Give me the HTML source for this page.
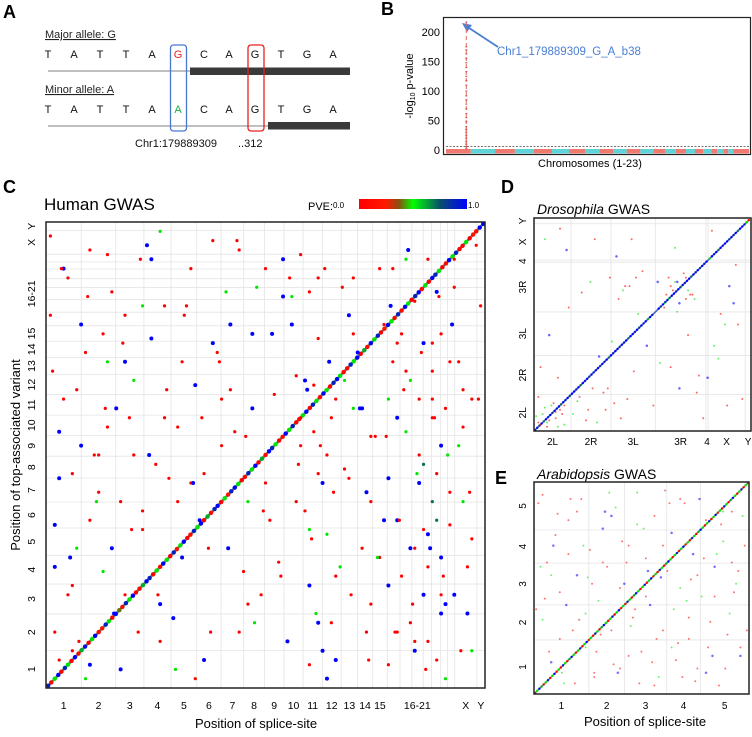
<!DOCTYPE html>
<html><head><meta charset="utf-8">
<style>
html,body{margin:0;padding:0;background:#fff;}
body{width:752px;height:732px;overflow:hidden;font-family:"Liberation Sans",sans-serif;}
svg text{font-family:"Liberation Sans",sans-serif;}
</style></head>
<body>
<svg id="fig" width="752" height="732" viewBox="0 0 752 732" xmlns="http://www.w3.org/2000/svg">
<g>
<text x="3" y="18" font-size="18" font-weight="bold">A</text>
<text x="45" y="38" font-size="11" text-decoration="underline" fill="#222">Major allele: G</text>
<g font-size="11" fill="#111" text-anchor="middle">
<text x="48" y="58">T</text><text x="74" y="58">A</text><text x="100" y="58">T</text><text x="126" y="58">T</text><text x="152" y="58">A</text><text x="178" y="58" fill="#e82020">G</text><text x="204" y="58">C</text><text x="229" y="58">A</text><text x="255" y="58">G</text><text x="281" y="58">T</text><text x="307" y="58">G</text><text x="333" y="58">A</text>
</g>
<line x1="48" y1="71" x2="190" y2="71" stroke="#aaa" stroke-width="1.5"/>
<rect x="190" y="67.5" width="160" height="7.5" fill="#3a3a3a"/>
<text x="45" y="93" font-size="11" text-decoration="underline" fill="#222">Minor allele: A</text>
<g font-size="11" fill="#111" text-anchor="middle">
<text x="48" y="113">T</text><text x="74" y="113">A</text><text x="100" y="113">T</text><text x="126" y="113">T</text><text x="152" y="113">A</text><text x="178" y="113" fill="#1db04a">A</text><text x="204" y="113">C</text><text x="229" y="113">A</text><text x="255" y="113">G</text><text x="281" y="113">T</text><text x="307" y="113">G</text><text x="333" y="113">A</text>
</g>
<line x1="48" y1="126" x2="268" y2="126" stroke="#aaa" stroke-width="1.5"/>
<rect x="268" y="122" width="82" height="7.5" fill="#3a3a3a"/>
<rect x="170.5" y="45" width="16" height="86" rx="3" fill="none" stroke="#4a78d0" stroke-width="1.3"/>
<rect x="248" y="45" width="16" height="86" rx="3" fill="none" stroke="#e82020" stroke-width="1.3"/>
<text x="135" y="147" font-size="11" fill="#111">Chr1:179889309</text>
<text x="238" y="147" font-size="11" fill="#111">..312</text>
</g>

<g id="panelB">
<text x="381" y="15" font-size="18" font-weight="bold">B</text>
<rect x="443.5" y="17.5" width="307" height="137" fill="none" stroke="#222" stroke-width="1.2"/>
<text transform="translate(413,86) rotate(-90)" font-size="11" text-anchor="middle">-log<tspan font-size="7" dy="2">10</tspan><tspan dy="-2"> p-value</tspan></text>
<text x="590" y="167" font-size="11" text-anchor="middle">Chromosomes (1-23)</text>
<line x1="446" y1="146.5" x2="749" y2="146.5" stroke="#444" stroke-width="0.8" stroke-dasharray="2,1.5"/>
<line x1="498" y1="47" x2="466" y2="26" stroke="#4a7fd4" stroke-width="1.8"/>
<polygon points="462,23 472,25 467,32" fill="#4a7fd4"/>
<text x="497" y="55" font-size="11.5" fill="#4a7fd4">Chr1_179889309_G_A_b38</text>
</g>

<g id="panelC">
<text x="3" y="193" font-size="18" font-weight="bold">C</text>
<text x="44" y="210" font-size="17">Human GWAS</text>
<text x="308" y="210" font-size="11">PVE:</text>
<text x="333" y="208" font-size="8">0.0</text>
<defs><linearGradient id="pveg" x1="0" x2="1" y1="0" y2="0">
<stop offset="0" stop-color="#ff0000"/><stop offset="0.25" stop-color="#ff1a00"/><stop offset="0.37" stop-color="#8a5010"/><stop offset="0.5" stop-color="#00ff00"/><stop offset="0.75" stop-color="#0a4f6a"/><stop offset="1" stop-color="#0000ff"/></linearGradient></defs>
<rect x="359" y="199" width="108" height="10" fill="url(#pveg)"/>
<text x="468" y="208" font-size="8">1.0</text>
<text transform="translate(20,455) rotate(-90)" font-size="13" text-anchor="middle">Position of top-associated variant</text>
<text x="256" y="728" font-size="13" text-anchor="middle">Position of splice-site</text>
</g>

<g id="panelD">
<text x="501" y="193" font-size="18" font-weight="bold">D</text>
<text x="537" y="214" font-size="14"><tspan font-style="italic">Drosophila</tspan> GWAS</text>
</g>

<g id="panelE">
<text x="495" y="484" font-size="18" font-weight="bold">E</text>
<text x="537" y="479" font-size="14"><tspan font-style="italic">Arabidopsis</tspan> GWAS</text>
<text x="645" y="726" font-size="13" text-anchor="middle">Position of splice-site</text>
</g>
</svg>
<script>
const humanChroms = ["1","2","3","4","5","6","7","8","9","10","11","12","13","14","15","16","17","18","19","20","21","22","X","Y"];
const humanLens = [248,242,198,190,181,171,159,145,138,134,135,133,114,107,102,90,83,80,59,64,47,51,156,57];
const humanTickLabels = ["1","2","3","4","5","6","7","8","9","10","11","12","13","14","15","16-21","X","Y"];
const humanTickCenters = [0,1,2,3,4,5,6,7,8,9,10,11,12,13,14,17.5,22,23];
const bTicks = [0,50,100,150,200];
const bSpikeValues = [217,175,170,163,155,148,140,133,125,118,110,100,92,85,78,70,62,55,48,40,35,30,25,20,15,10,6,3];
const bSpikePos = 0.058;
const cDiagPos = [0.005,0.012,0.02,0.028,0.035,0.043,0.05,0.058,0.066,0.074,0.081,0.089,0.097,0.105,0.112,0.12,0.128,0.136,0.143,0.151,0.159,0.167,0.174,0.182,0.19,0.198,0.205,0.213,0.221,0.229,0.236,0.244,0.252,0.26,0.267,0.275,0.283,0.291,0.298,0.306,0.314,0.322,0.329,0.337,0.345,0.353,0.36,0.368,0.376,0.384,0.391,0.399,0.407,0.415,0.422,0.43,0.438,0.446,0.453,0.461,0.469,0.477,0.484,0.492,0.5,0.508,0.515,0.523,0.531,0.539,0.546,0.554,0.562,0.57,0.577,0.585,0.593,0.601,0.608,0.616,0.624,0.632,0.639,0.647,0.655,0.663,0.67,0.678,0.686,0.694,0.701,0.709,0.717,0.725,0.732,0.74,0.748,0.756,0.763,0.771,0.779,0.787,0.794,0.802,0.81,0.818,0.825,0.833,0.841,0.849,0.856,0.864,0.872,0.88,0.887,0.895,0.903,0.911,0.918,0.926,0.934,0.942,0.949,0.957,0.965,0.973,0.98,0.988,0.996];
const cDiagPve = [0.9,0.1,0.5,1,0,0.9,0.5,0,1,0.1,0.6,0.95,0,0.5,1,0.1,0.2,0.9,0.5,0,1,0.4,0.1,0.9,0.5,1,0,0.1,0.6,1,0.9,0,0.5,0.1,1,0.5,0,0.9,0.2,0.5,1,0,0.1,0.9,0.5,1,0,0.6,0.1,0.9,1,0,0.5,0.2,0.9,1,0.5,0,0.1,0.9,0.5,1,0,0.6,0.1,1,0.9,0.5,0,0.1,1,0.5,0.9,0,0.1,0.5,1,0,0.9,0.5,0.1,1,0.5,0,0.9,1,0.5,0.1,0,0.9,0.5,1,0,0.6,0.1,1,0.5,0.9,0,0.2,1,0.5,0,0.9,0.1,1,0.5,0,0.9,1,0.1,0.5,0,1,0.9,0.5,0,0.1,1,0.5,0.9,0,0.1,0.5,0,0.2,0.1];
const cPtX = [0.01,0.02,0.03,0.05,0.07,0.09,0.1,0.12,0.14,0.16,0.18,0.2,0.23,0.25,0.27,0.29,0.31,0.33,0.35,0.38,0.4,0.42,0.45,0.48,0.52,0.55,0.57,0.58,0.6,0.61,0.62,0.64,0.66,0.68,0.7,0.72,0.74,0.76,0.78,0.79,0.8,0.82,0.83,0.84,0.85,0.86,0.87,0.88,0.89,0.9,0.92,0.94,0.96,0.98,
0.02,0.04,0.06,0.08,0.11,0.13,0.15,0.17,0.19,0.22,0.24,0.26,0.3,0.34,0.37,0.41,0.44,0.47,0.5,0.53,0.56,0.59,0.61,0.63,0.65,0.67,0.69,0.71,0.73,0.75,0.77,0.79,0.81,0.83,0.85,0.87,0.88,0.9,0.91,0.93,0.95,0.97,
0.01,0.03,0.05,0.07,0.09,0.12,0.15,0.18,0.21,0.24,0.28,0.32,0.36,0.39,0.43,0.46,0.49,0.54,0.57,0.6,0.62,0.64,0.66,0.7,0.73,0.76,0.78,0.8,0.82,0.84,0.86,0.88,0.89,0.9,0.92,0.94,0.97,0.99,
0.04,0.06,0.1,0.14,0.2,0.26,0.33,0.4,0.47,0.58,0.6,0.63,0.68,0.72,0.77,0.8,0.83,0.85,0.87,0.89,0.91,0.93,0.95,
0.03,0.08,0.13,0.17,0.22,0.27,0.31,0.36,0.44,0.51,0.56,0.59,0.62,0.65,0.69,0.74,0.78,0.81,0.84,0.86,0.88,0.9,0.92,0.96,
0.015,0.035,0.055,0.075,0.095,0.115,0.135,0.155,0.175,0.195,0.215,0.235,0.255,0.275,0.295,0.315,0.335,0.355,0.375,0.395,0.415,0.435,0.455,0.475,0.495,0.515,0.535,0.555,0.575,0.595,0.605,0.615,0.625,0.635,0.645,0.655,0.675,0.695,0.715,0.735,0.755,0.775,0.785,0.795,0.805,0.815,0.825,0.835,0.845,0.855,0.865,0.875,0.885,0.895,0.905,0.915,0.925,0.945,0.965,0.985,
0.02,0.06,0.1,0.14,0.18,0.22,0.26,0.3,0.34,0.38,0.42,0.46,0.5,0.54,0.58,0.6,0.62,0.64,0.66,0.7,0.74,0.78,0.8,0.82,0.84,0.86,0.87,0.88,0.89,0.9,0.91,0.93,0.95,0.97];
const cPtY = [0.97,0.12,0.55,0.88,0.3,0.72,0.05,0.42,0.93,0.6,0.2,0.66,0.95,0.48,0.82,0.15,0.7,0.9,0.36,0.96,0.52,0.78,0.25,0.86,0.63,0.1,0.4,0.93,0.22,0.55,0.75,0.33,0.06,0.47,0.88,0.6,0.18,0.28,0.45,0.7,0.12,0.55,0.3,0.83,0.62,0.2,0.92,0.4,0.06,0.52,0.35,0.7,0.16,0.95,
0.35,0.62,0.08,0.78,0.5,0.25,0.85,0.04,0.58,0.38,0.75,0.1,0.56,0.65,0.3,0.85,0.12,0.6,0.9,0.27,0.78,0.38,0.65,0.08,0.58,0.26,0.45,0.72,0.12,0.54,0.36,0.9,0.24,0.66,0.44,0.1,0.74,0.28,0.6,0.86,0.4,0.62,
0.8,0.45,0.2,0.64,0.02,0.5,0.3,0.8,0.12,0.92,0.45,0.82,0.06,0.72,0.55,0.4,0.2,0.92,0.67,0.85,0.14,0.5,0.24,0.6,0.42,0.9,0.05,0.36,0.68,0.1,0.48,0.58,0.85,0.2,0.7,0.52,0.32,0.82,
0.9,0.22,0.36,0.7,0.5,0.18,0.44,0.62,0.76,0.58,0.05,0.44,0.66,0.3,0.78,0.58,0.14,0.5,0.33,0.46,0.02,0.2,0.56,
0.06,0.52,0.76,0.4,0.82,0.58,0.28,0.46,0.94,0.36,0.84,0.66,0.46,0.14,0.8,0.4,0.62,0.76,0.08,0.34,0.68,0.16,0.42,0.26,
0.68,0.9,0.28,0.1,0.84,0.4,0.6,0.16,0.74,0.34,0.92,0.5,0.2,0.64,0.04,0.8,0.44,0.58,0.12,0.7,0.3,0.96,0.54,0.14,0.38,0.76,0.24,0.88,0.48,0.64,0.32,0.16,0.52,0.9,0.7,0.42,0.86,0.2,0.6,0.06,0.28,0.54,0.82,0.12,0.36,0.64,0.94,0.18,0.46,0.72,0.04,0.3,0.58,0.84,0.24,0.5,0.78,0.08,0.42,0.62,
0.26,0.46,0.94,0.56,0.7,0.34,0.98,0.4,0.02,0.74,0.64,0.18,0.44,0.84,0.52,0.34,0.88,0.02,0.62,0.76,0.54,0.22,0.74,0.92,0.3,0.74,0.26,0.62,0.36,0.76,0.18,0.92,0.64,0.08];
const cPtP = [0,0,1,0,0.5,0,1,0,0,1,0,0.5,1,0,0,1,0,0,1,0,0,1,0,0.5,0,1,0,0,1,0,0,0.5,1,0,0,1,0,0,1,0,0,0.5,1,0,0,1,0,0.7,0,1,0,0,1,0,
1,0,0,1,0,0.5,0,1,0,0,1,0,0,1,0,0.5,0,1,0,0,1,0,0,1,0,0.5,0,1,0,0,1,0,0,0.5,1,0,0,1,0,0,0.5,0,
0,1,0,0,0.5,0,1,0,0,1,0,0,1,0,0,0.5,0,1,0,0,1,0,0,0.5,1,0,0,1,0,0,0.7,0,1,0,0,0.5,0,0,
1,0,0,0.5,0,1,0,0,1,0,0,1,0.5,0,0,1,0,0,1,0,0.5,1,0,
0,1,0,0,0.5,0,1,0,0,0,0.5,1,0,0,1,0,0.5,0,1,0,0,1,0,0,
0,0,1,0,0,0.5,0,1,0,0,0,1,0,0,0.5,0,1,0,0,0,1,0,0,0.5,0,1,0,0,0,1,0,0.5,0,0,1,0,0,0,1,0,0.5,0,1,0,0,0,1,0,0.5,0,0,1,0,0,0,0.5,1,0,0,0,
1,0,0,0,1,0,0.5,0,0,1,0,0,0,1,0,0.5,0,1,0,0,0,1,0,0.5,0,1,0,0,0.7,0,1,0,0,0.5];
const dChroms = ["2L","2R","3L","3R","4","X","Y"];
const dLens = [23.5,25.3,28.1,32.1,1.35,23.5,3.7];
const dDiagPos = [0.005,0.015,0.025,0.035,0.045,0.055,0.065,0.075,0.085,0.095,0.105,0.115,0.125,0.135,0.145,0.155,0.165,0.175,0.185,0.195,0.205,0.215,0.225,0.235,0.245,0.255,0.265,0.275,0.285,0.295,0.305,0.315,0.325,0.335,0.345,0.355,0.365,0.375,0.385,0.395,0.405,0.415,0.425,0.435,0.445,0.455,0.465,0.475,0.485,0.495,0.505,0.515,0.525,0.535,0.545,0.575,0.585,0.595,0.605,0.615,0.625,0.635,0.645,0.655,0.665,0.675,0.685,0.695,0.705,0.715,0.725,0.735,0.745,0.755,0.765,0.775,0.785,0.795,0.81,0.82,0.83,0.84,0.85,0.86,0.87,0.88,0.89,0.9,0.91,0.92,0.93,0.94,0.95,0.96,0.97,0.98,0.99];
const dDiagPve = [0.9,1,0.8,1,0.7,1,0.9,1,0.8,1,0.9,1,0.7,1,0.9,1,0.8,1,1,0.9,1,0.7,1,0.9,1,0.8,1,0.9,1,1,0.8,1,0.9,1,0.7,1,0.9,1,1,0.8,1,0.9,1,0.7,1,1,0.9,1,0.8,1,0.9,1,0.6,1,0.9,1,0.8,1,0.9,1,0.7,1,1,0.9,1,0.8,1,0.9,1,1,0.7,1,0.9,1,0.8,1,0.9,1,0.5,1,0.9,1,0.7,1,0.9,1,1,0.8,1,0.9,1,0.7,1,1,0.9,0.5,0.2];
const dPtX = [0.02,0.04,0.06,0.08,0.1,0.12,0.14,0.03,0.07,0.11,0.16,0.2,0.24,0.27,0.3,0.33,0.36,0.22,0.26,0.4,0.43,0.46,0.48,0.42,0.52,0.55,0.58,0.6,0.62,0.64,0.66,0.68,0.7,0.72,0.74,0.63,0.67,0.71,0.78,0.8,0.83,0.86,0.9,0.93,0.96,0.05,0.15,0.35,0.45,0.57,0.75,0.88,0.92,0.12,0.28,0.38,0.5,0.65,0.82,
0.01,0.03,0.05,0.07,0.09,0.11,0.13,0.02,0.06,0.1,0.14,0.18,0.21,0.25,0.29,0.32,0.34,0.37,0.39,0.41,0.44,0.47,0.6,0.61,0.63,0.65,0.67,0.69,0.71,0.73,0.62,0.66,0.7,0.76,0.85,0.89,0.94];
const dPtY = [0.04,0.08,0.02,0.12,0.06,0.1,0.03,0.3,0.45,0.25,0.58,0.14,0.05,0.2,0.35,0.1,0.42,0.65,0.7,0.06,0.15,0.28,0.55,0.68,0.4,0.12,0.32,0.58,0.62,0.66,0.7,0.68,0.72,0.64,0.62,0.3,0.2,0.45,0.06,0.25,0.4,0.55,0.68,0.78,0.15,0.9,0.85,0.72,0.9,0.7,0.18,0.5,0.6,0.95,0.9,0.82,0.75,0.86,0.94,
0.07,0.03,0.11,0.05,0.13,0.02,0.08,0.16,0.04,0.09,0.12,0.08,0.16,0.1,0.04,0.18,0.2,0.13,0.62,0.66,0.68,0.72,0.6,0.64,0.68,0.7,0.6,0.74,0.66,0.64,0.72,0.56,0.62,0.26,0.34,0.12,0.5];
const dPtP = [0,0.5,0,0.5,0,0,0.5,0,1,0,0,0.5,0,0,1,0,0.5,0,0.5,0,0,0,0.5,0,1,0,0.5,0,0.5,0,1,0.5,0,0,0.5,0,1,0,0,1,0.5,0,1,0,0,0.5,1,0,0,1,0,0.5,1,0,0,1,0,0.5,0,
0.5,0,0.5,0,0,0.5,0,0,0.5,0,0,0.5,0,0,0.5,0,0,0,0,0.5,0,0,0.5,0,0,0.5,1,0,0.5,0,0,0.5,0,0,0.5,0,0];
const eChroms = ["1","2","3","4","5"];
const eLens = [30.4,19.7,23.5,18.6,27.0];
const eDiagPos = [0.005,0.015,0.025,0.035,0.045,0.055,0.065,0.075,0.085,0.095,0.105,0.115,0.125,0.135,0.145,0.155,0.165,0.175,0.185,0.195,0.205,0.215,0.225,0.235,0.245,0.255,0.265,0.275,0.285,0.295,0.305,0.315,0.325,0.335,0.345,0.355,0.365,0.375,0.385,0.395,0.405,0.415,0.425,0.435,0.445,0.455,0.465,0.475,0.485,0.495,0.505,0.515,0.525,0.535,0.545,0.555,0.565,0.575,0.585,0.595,0.605,0.615,0.625,0.635,0.645,0.655,0.665,0.675,0.685,0.695,0.705,0.715,0.725,0.735,0.745,0.755,0.765,0.775,0.785,0.795,0.805,0.815,0.825,0.835,0.845,0.855,0.865,0.875,0.885,0.895,0.905,0.915,0.925,0.935,0.945,0.955,0.965,0.975,0.985,0.995];
const eDiagPve = [0,0.5,1,0.6,0,0.5,0.9,0,0.5,1,0.2,0.5,0,0.9,0.5,0,0.6,1,0.5,0,0.5,0.9,0,0.5,1,0.3,0.5,0,0.9,0.5,0,0.6,1,0.5,0,0.5,0.9,0,0.5,1,0.2,0.5,0,0.9,0.5,0,0.6,1,0.5,0,0.5,0.9,0,0.5,1,0.3,0.5,0,0.9,0.5,0,0.6,1,0.5,0,0.5,0.9,0,0.5,1,0.2,0.5,0,0.9,0.5,0,0.6,1,0.5,0,0.5,0.9,0,0.5,1,0.3,0.5,0,0.9,0.5,0,0.6,1,0.5,0,0.5,0.9,0,0.5,0.2];
const ePtX = [0.02,0.04,0.06,0.08,0.1,0.12,0.14,0.16,0.18,0.2,0.22,0.24,0.26,0.28,0.3,0.32,0.34,0.36,0.38,0.4,0.42,0.44,0.46,0.48,0.5,0.52,0.54,0.56,0.58,0.6,0.62,0.64,0.66,0.68,0.7,0.72,0.74,0.76,0.78,0.8,0.82,0.84,0.86,0.88,0.9,0.92,0.94,0.96,0.98,
0.03,0.07,0.11,0.15,0.19,0.23,0.27,0.31,0.35,0.39,0.43,0.47,0.51,0.55,0.59,0.63,0.67,0.71,0.75,0.79,0.83,0.87,0.91,0.95,0.99,
0.05,0.09,0.13,0.17,0.21,0.25,0.29,0.33,0.37,0.41,0.45,0.49,0.53,0.57,0.61,0.65,0.69,0.73,0.77,0.81,0.85,0.89,0.93,0.97,
0.01,0.04,0.08,0.12,0.16,0.2,0.24,0.28,0.32,0.36,0.4,0.44,0.48,0.52,0.56,0.6,0.64,0.68,0.72,0.76,0.8,0.84,0.88,0.92,0.96];
const ePtY = [0.9,0.35,0.62,0.15,0.75,0.48,0.05,0.82,0.3,0.56,0.92,0.22,0.68,0.1,0.44,0.78,0.6,0.3,0.88,0.12,0.52,0.7,0.36,0.95,0.2,0.64,0.42,0.84,0.08,0.3,0.58,0.76,0.16,0.5,0.9,0.26,0.66,0.12,0.46,0.82,0.34,0.6,0.04,0.72,0.28,0.86,0.52,0.18,0.7,
0.6,0.2,0.85,0.42,0.05,0.7,0.52,0.28,0.95,0.1,0.62,0.4,0.78,0.15,0.55,0.9,0.24,0.44,0.06,0.64,0.18,0.8,0.38,0.58,0.3,
0.45,0.7,0.1,0.92,0.35,0.55,0.2,0.86,0.14,0.72,0.32,0.05,0.58,0.26,0.96,0.4,0.08,0.54,0.92,0.22,0.66,0.12,0.48,0.84,
0.4,0.94,0.56,0.26,0.66,0.86,0.38,0.08,0.62,0.84,0.5,0.18,0.8,0.46,0.04,0.7,0.22,0.92,0.36,0.56,0.1,0.46,0.86,0.62,0.22];
const ePtP = [0,0.5,0,1,0,0,0.5,0,0,1,0,0.5,0,0,0.5,1,0,0,0.5,0,1,0,0,0.5,0,0,1,0,0.5,0,0,1,0,0.5,0,0,1,0,0.5,0,0,1,0,0.5,0,0,0.5,1,0,
0.5,0,0,1,0,0.5,0,0,0.5,1,0,0,0.5,0,1,0,0,0.5,0,0,1,0,0.5,0,0,
0,1,0.5,0,0,0.5,0,1,0,0,0.5,0,1,0,0,0.5,0,0,1,0,0.5,0,0,0.5,
0,0,0.5,0,0,0,0.5,0,0,1,0,0,0.5,0,0,0,0.5,0,0,0,1,0,0.5,0,0];

const NS = "http://www.w3.org/2000/svg";
const svg = document.getElementById("fig");
function mk(tag, attrs, parent) {
  const e = document.createElementNS(NS, tag);
  for (const k in attrs) e.setAttribute(k, attrs[k]);
  (parent || svg).appendChild(e);
  return e;
}
function cum(lens) { const t = lens.reduce((a,b)=>a+b,0); let s=0; return lens.map(l=>{const r=[s/t,(s+l)/t]; s+=l; return r;}); }
function lerp(a,b,t){return Math.round(a+(b-a)*t);}
const stops = [[0,[255,0,0]],[0.25,[255,20,0]],[0.37,[140,80,16]],[0.5,[0,230,0]],[0.75,[10,80,106]],[1,[0,0,255]]];
function pveColor(p){ for(let i=1;i<stops.length;i++){ if(p<=stops[i][0]){const a=stops[i-1],b=stops[i];const t=(p-a[0])/(b[0]-a[0]);return `rgb(${lerp(a[1][0],b[1][0],t)},${lerp(a[1][1],b[1][1],t)},${lerp(a[1][2],b[1][2],t)})`;}} return "rgb(0,0,255)"; }

(function(){
  const g = document.getElementById("panelB");
  const by = v => 150 - v * 0.59;
  const bx = f => 449 + f * 298;
  bTicks.forEach(t => {
    const tx = mk("text", {x: 440, y: by(t) + 4, "font-size": 11, "text-anchor": "end"}, g);
    tx.textContent = t;
    
    
  });
  const segs = cum(humanLens.slice(0, 23));
  segs.forEach((s, i) => {
    const r = mk("rect", {x: 446 + s[0] * 303, y: 149, width: (s[1] - s[0]) * 303, height: 4.5, fill: i % 2 ? "#5fd3d8" : "#f07a70"}, g);
    
    
  });
  const top = Math.max(...bSpikeValues);
  const ln = mk("line", {x1: bx(bSpikePos), x2: bx(bSpikePos), y1: by(top), y2: 150, stroke: "#e06a60", "stroke-width": 1, "stroke-dasharray": "4,3"}, g);
  
  
  const ln2 = mk("line", {x1: bx(bSpikePos), x2: bx(bSpikePos), y1: by(40), y2: 150, stroke: "#e06a60", "stroke-width": 1}, g);
  
  
  bSpikeValues.forEach(v => {
    const c = mk("rect", {x: bx(bSpikePos) - 1, y: by(v) - 0.5, width: 2, height: 1.2, fill: "#d85a50"}, g);
    
    
  });
})();

function dotPlot(opt) {
  const g = mk("g", {}, svg);
  
  
  const {L, T, R, B} = opt;
  const sx = f => L + f * (R - L);
  const sy = f => B - f * (B - T);
  const segs = cum(opt.lens);
  segs.forEach((s, i) => {
    if (i === 0) return;
    const gl = mk("line", {x1: sx(s[0]), x2: sx(s[0]), y1: T, y2: B, stroke: "#e4e4e4", "stroke-width": 0.8}, g);
    
    
    const gl2 = mk("line", {x1: L, x2: R, y1: sy(s[0]), y2: sy(s[0]), stroke: "#e4e4e4", "stroke-width": 0.8}, g);
    
    
  });
  opt.tickLabels.forEach((lab, i) => {
    const idx = opt.tickCenters[i];
    let c;
    if (lab === "16-21") c = (segs[15][0] + segs[20][1]) / 2;
    else c = (segs[idx][0] + segs[idx][1]) / 2;
    const tx = mk("text", {x: sx(c), y: B + opt.xLabOff, "font-size": opt.fs, "text-anchor": "middle"}, g);
    tx.textContent = lab;
    
    
    const ty = mk("text", {transform: `translate(${L - opt.yLabOff},${sy(c)}) rotate(-90)`, "font-size": opt.fs, "text-anchor": "middle"}, g);
    ty.textContent = lab;
    
    
  });
  let d = "";
  opt.diag.forEach((f, i) => { d += (i ? "L" : "M") + sx(f).toFixed(1) + "," + sy(f).toFixed(1); });
  const pl = mk("path", {d: d, stroke: opt.diagLine, "stroke-width": opt.diagW, fill: "none", opacity: 0.8}, g);
  
  
  opt.diag.forEach((f, i) => {
    const c = mk("circle", {cx: sx(f), cy: sy(f), r: opt.diagR, fill: pveColor(opt.diagP[i])}, g);
    
    
  });
  opt.px.forEach((x, i) => {
    const p = opt.pp[i];
    const c = mk("circle", {cx: sx(x), cy: sy(opt.py[i]), r: p > 0.8 ? opt.r * 1.25 : opt.r, fill: pveColor(p), opacity: opt.op}, g);
    
    
  });
  const fr = mk("rect", {x: L, y: T, width: R - L, height: B - T, fill: "none", stroke: "#222", "stroke-width": 1.5}, g);
  
  
}

dotPlot({name: "human-dot-plot", L: 46, T: 222, R: 485, B: 688, lens: humanLens,
  tickLabels: humanTickLabels, tickCenters: humanTickCenters,
  xLabOff: 21, yLabOff: 11, fs: 10.5, diag: cDiagPos, diagP: cDiagPve, diagR: 2.2, diagLine: "#2a6a40", diagW: 2.5,
  px: cPtX, py: cPtY, pp: cPtP, r: 1.6, op: 1});

dotPlot({name: "drosophila-dot-plot", L: 534, T: 218, R: 751, B: 431, lens: dLens,
  tickLabels: dChroms, tickCenters: [0,1,2,3,4,5,6],
  xLabOff: 14, yLabOff: 8, fs: 10, diag: dDiagPos, diagP: dDiagPve, diagR: 1.2, diagLine: "#2040c0", diagW: 1.6,
  px: dPtX, py: dPtY, pp: dPtP, r: 1, op: 0.6});

dotPlot({name: "arabidopsis-dot-plot", L: 534, T: 482, R: 749, B: 694, lens: eLens,
  tickLabels: eChroms, tickCenters: [0,1,2,3,4],
  xLabOff: 15, yLabOff: 8, fs: 10, diag: eDiagPos, diagP: eDiagPve, diagR: 1.2, diagLine: "#4a8a40", diagW: 1.6,
  px: ePtX, py: ePtY, pp: ePtP, r: 1, op: 0.55});
</script>
</body></html>
